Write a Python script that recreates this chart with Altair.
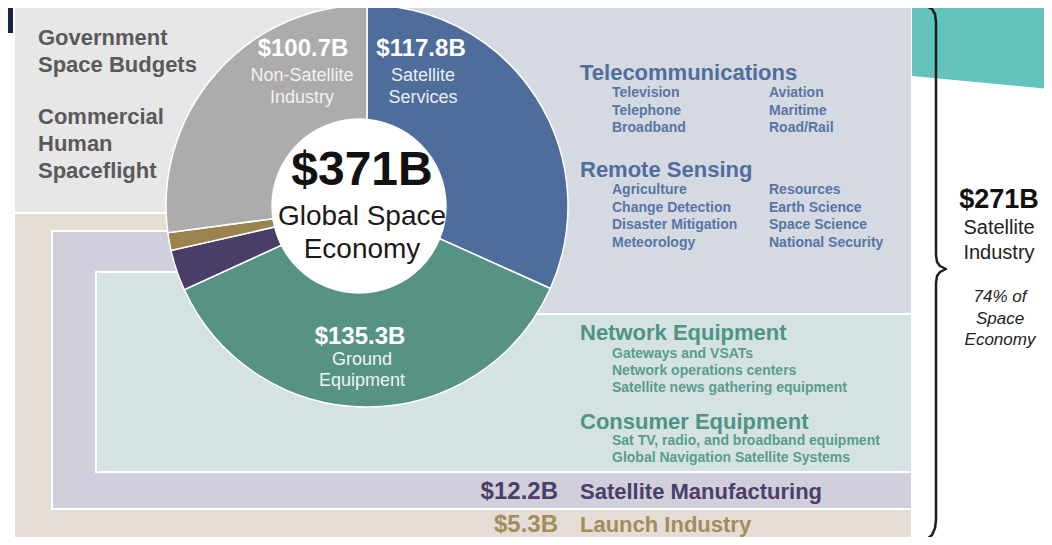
import altair as alt
import pandas as pd

# ---------------- data ----------------
segments = ["Satellite Services", "Ground Equipment", "Satellite Manufacturing",
            "Launch Industry", "Non-Satellite Industry"]
values = [117.8, 135.3, 12.2, 5.3, 100.7]
seg_colors = ["#4e6d9a", "#579384", "#4a3e69", "#9b8350", "#adabac"]

total_value = "$371B"
total_caption = ["Global Space", "Economy"]
satellite_total = "$271B"
satellite_caption = ["Satellite", "Industry"]
share_caption = ["74% of", "Space", "Economy"]

gov_lines = ["Government", "Space Budgets"]
human_lines = ["Commercial", "Human", "Spaceflight"]

telecom_title = "Telecommunications"
telecom_left = ["Television", "Telephone", "Broadband"]
telecom_right = ["Aviation", "Maritime", "Road/Rail"]
remote_title = "Remote Sensing"
remote_left = ["Agriculture", "Change Detection", "Disaster Mitigation", "Meteorology"]
remote_right = ["Resources", "Earth Science", "Space Science", "National Security"]
network_title = "Network Equipment"
network_items = ["Gateways and VSATs", "Network operations centers",
                 "Satellite news gathering equipment"]
consumer_title = "Consumer Equipment"
consumer_items = ["Sat TV, radio, and broadband equipment",
                  "Global Navigation Satellite Systems"]

def money(v):
    return f"${v}B"

# ---------------- layout helpers (pixel coords of the 1052x545 picture) ----------------
OFF = 8
FONT = "Liberation Sans"

def P(v):
    return v - OFF

X = lambda f="x": alt.X(f"{f}:Q", scale=None)
Y = lambda f="y": alt.Y(f"{f}:Q", scale=None)


def text_layer(rows, **kw):
    df = pd.DataFrame(rows, columns=["text", "x", "y", "color"])
    df["x"] = df["x"].map(P)
    df["y"] = df["y"].map(P)
    return alt.Chart(df).mark_text(font=FONT, baseline="middle", **kw).encode(
        x=X(), y=Y(), text="text:N", color=alt.Color("color:N", scale=None)
    )

# ---------------- background panels ----------------
rects = pd.DataFrame([
    # x, x2, y, y2, fill, stroke width
    (0, 920, 0, 5, "#14283a", 0),
    (0, 14, 0, 33, "#14283a", 0),
    (14, 370, 5, 213, "#e7e7e8", 2),
    (14, 912, 213, 550, "#e4ddd5", 2),
    (52, 912, 231, 509, "#d0cfdb", 2),
    (96, 912, 272, 472, "#d4e3e2", 2),
    (368, 912, 4, 314, "#d5d9e2", 2),
], columns=["x", "x2", "y", "y2", "fill", "sw"])
for c in ["x", "x2", "y", "y2"]:
    rects[c] = rects[c].map(P)

bg = alt.Chart(rects).mark_rect(stroke="white").encode(
    x=X("x"), x2="x2:Q", y=Y("y"), y2="y2:Q",
    fill=alt.Fill("fill:N", scale=None),
    strokeWidth=alt.StrokeWidth("sw:Q", scale=None),
)

teal = pd.DataFrame({"x": [P(912), P(1060)], "y": [P(76), P(90)], "y2": [P(-5), P(-5)]})
teal_layer = alt.Chart(teal).mark_area(color="#63c3bd", opacity=1).encode(
    x=X("x"), y=Y("y"), y2="y2:Q"
)

# ---------------- donut ----------------
pie_df = pd.DataFrame({
    "segment": segments,
    "value": values,
    "color": seg_colors,
    "order": list(range(len(segments))),
})
pie = alt.Chart(pie_df).mark_arc(radius=201, stroke="white", strokeWidth=1.5).encode(
    theta=alt.Theta("value:Q", stack=True),
    color=alt.Color("color:N", scale=None),
    order=alt.Order("order:Q"),
    x=alt.value(P(367)),
    y=alt.value(P(206)),
)
hole = alt.Chart(pd.DataFrame({"a": [0]})).mark_circle(
    size=3.14159 * 99 * 99, color="white", opacity=1
).encode(x=alt.value(P(359)), y=alt.value(P(206)))

# ---------------- texts ----------------
left_txt = text_layer(
    [(t, 38, y, "#5a5a5a") for t, y in zip(gov_lines + human_lines, [38, 65, 117, 144, 171])],
    align="left", fontSize=22, fontWeight="bold",
)

pie_vals = text_layer([
    (money(values[4]), 303, 49, "white"),
    (money(values[0]), 421, 49, "white"),
    (money(values[1]), 360, 337, "white"),
], align="center", fontSize=24, fontWeight="bold")

pie_caps = text_layer([
    ("Non-Satellite", 302, 76, "#f1f1f1"),
    ("Industry", 302, 98, "#f1f1f1"),
    ("Satellite", 423, 76, "#e8edf4"),
    ("Services", 423, 98, "#e8edf4"),
    ("Ground", 362, 360, "#eef4f2"),
    ("Equipment", 362, 381, "#eef4f2"),
], align="center", fontSize=18)

center_big = text_layer([(total_value, 362, 171, "#111111")],
                        align="center", fontSize=48, fontWeight="bold")
center_cap = text_layer([(total_caption[0], 362, 217, "#1a1a1a"),
                         (total_caption[1], 362, 250, "#1a1a1a")],
                        align="center", fontSize=28)

BLUE_H, BLUE_I = "#4f6d9d", "#5875a5"
GREEN_H, GREEN_I = "#4e9485", "#5a9c8d"
heads = text_layer([
    (telecom_title, 580, 73, BLUE_H),
    (remote_title, 580, 170, BLUE_H),
    (network_title, 580, 333, GREEN_H),
    (consumer_title, 580, 422, GREEN_H),
], align="left", fontSize=22, fontWeight="bold")

item_rows = []
for t, y in zip(telecom_left, [93, 111, 128]):
    item_rows.append((t, 612, y, BLUE_I))
for t, y in zip(telecom_right, [93, 111, 128]):
    item_rows.append((t, 769, y, BLUE_I))
for t, y in zip(remote_left, [190, 208, 225, 243]):
    item_rows.append((t, 612, y, BLUE_I))
for t, y in zip(remote_right, [190, 208, 225, 243]):
    item_rows.append((t, 769, y, BLUE_I))
for t, y in zip(network_items, [354, 371, 388]):
    item_rows.append((t, 612, y, GREEN_I))
for t, y in zip(consumer_items, [441, 458]):
    item_rows.append((t, 612, y, GREEN_I))
items = text_layer(item_rows, align="left", fontSize=14, fontWeight="bold")

bottom_vals = text_layer([
    (money(values[2]), 558, 492, "#4b3e69"),
    (money(values[3]), 558, 525, "#a38d5c"),
], align="right", fontSize=24, fontWeight="bold")
bottom_names = text_layer([
    (segments[2], 580, 492, "#4b3e69"),
    (segments[3], 580, 525, "#a38d5c"),
], align="left", fontSize=22, fontWeight="bold")

right_big = text_layer([(satellite_total, 999, 200, "#111111")],
                       align="center", fontSize=27, fontWeight="bold")
right_cap = text_layer([(satellite_caption[0], 999, 228, "#222222"),
                        (satellite_caption[1], 999, 253, "#222222")],
                       align="center", fontSize=20)
right_share = text_layer([(t, 1000, y, "#222222") for t, y in zip(share_caption, [297, 319, 340])],
                         align="center", fontSize=17, fontStyle="italic")

# ---------------- brace (decoration) ----------------
brace_pts = [(918, 5), (926, 6), (932, 9), (935, 14), (936, 22),
             (936, 255), (937, 262), (940, 266), (946, 269),
             (940, 272), (937, 276), (936, 283),
             (936, 520), (935, 528), (932, 535), (926, 540), (918, 543)]
brace_df = pd.DataFrame({"x": [P(a) for a, b in brace_pts],
                         "y": [P(b) for a, b in brace_pts],
                         "i": list(range(len(brace_pts)))})
brace = alt.Chart(brace_df).mark_line(color="#1e1e1e", strokeWidth=2.5,
                                      strokeCap="round", strokeJoin="round").encode(
    x=X("x"), y=Y("y"), order="i:Q"
)

chart = alt.layer(
    bg, teal_layer, pie, hole,
    left_txt, pie_vals, pie_caps, center_big, center_cap,
    heads, items, bottom_vals, bottom_names,
    right_big, right_cap, right_share, brace,
).properties(
    width=1036, height=529, padding=0,
    autosize=alt.AutoSizeParams(type="none"),
    background="white",
).configure_view(stroke=None)

chart.save("out.html", embed_options={"renderer": "svg", "actions": False})
